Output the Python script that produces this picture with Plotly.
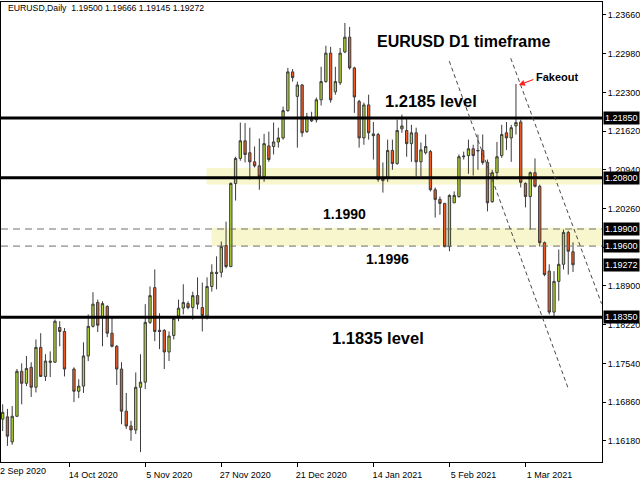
import plotly.graph_objects as go

# ---------------- data ----------------
# bar slot index (slot 14 is empty in the reference chart)
bar_index = [i for i in range(121) if i != 14]

opens = [
    1.1656, 1.1660, 1.1616, 1.1661, 1.1740, 1.1719, 1.1747, 1.1712, 1.1782, 1.1731,
    1.1758, 1.1756, 1.1817, 1.1810,
    1.1744, 1.1705, 1.1714, 1.1767, 1.1819, 1.1861, 1.1835, 1.1854, 1.1807, 1.1784,
    1.1744, 1.1670, 1.1644, 1.1637, 1.1712, 1.1721, 1.1826, 1.1887, 1.1812, 1.1812,
    1.1774, 1.1803, 1.1837, 1.1851, 1.1859, 1.1852, 1.1873, 1.1852, 1.1837, 1.1889,
    1.1914, 1.1914, 1.1961, 1.1924, 1.2070, 1.2114, 1.2145, 1.2124, 1.2108, 1.2101,
    1.2082, 1.2136, 1.2135, 1.2143, 1.2150, 1.2198, 1.2266, 1.2223, 1.2243, 1.2161,
    1.2185, 1.2182, 1.2217, 1.2249, 1.2299, 1.2231, 1.2247, 1.2301, 1.2327, 1.2273,
    1.2214, 1.2150, 1.2208, 1.2157, 1.2156, 1.2075, 1.2080, 1.2128, 1.2105, 1.2166,
    1.2163, 1.2140, 1.2159, 1.2108, 1.2124, 1.2126, 1.2059, 1.2042, 1.2035, 1.1959,
    1.2036, 1.2047, 1.2117, 1.2119, 1.2131, 1.2127, 1.2128, 1.2107, 1.2038, 1.2089,
    1.2119, 1.2159, 1.2150, 1.2171, 1.2178, 1.2070, 1.2047, 1.2089, 1.2065, 1.1966,
    1.1916, 1.1844, 1.1898, 1.1928, 1.1984, 1.19500,
]
highs = [
    1.1682, 1.1674, 1.1679, 1.1744, 1.1754, 1.1767, 1.1756, 1.1796, 1.1807, 1.1770,
    1.1775, 1.1831, 1.1828, 1.1816,
    1.1747, 1.1726, 1.1791, 1.1840, 1.1879, 1.1866, 1.1863, 1.1856, 1.1837, 1.1786,
    1.1756, 1.1702, 1.1653, 1.1738, 1.1770, 1.1858, 1.1889, 1.1919, 1.1842, 1.1814,
    1.1810, 1.1837, 1.1866, 1.1893, 1.1863, 1.1880, 1.1905, 1.1896, 1.1905, 1.1928,
    1.1942, 1.1968, 1.2003, 1.2072, 1.2117, 1.2177, 1.2176, 1.2168, 1.2135, 1.2149,
    1.2157, 1.2161, 1.2177, 1.2168, 1.2205, 1.2273, 1.2271, 1.2249, 1.2245, 1.2194,
    1.2196, 1.2221, 1.2275, 1.2312, 1.2310, 1.2275, 1.2308, 1.2352, 1.2345, 1.2275,
    1.2217, 1.2212, 1.2226, 1.2178, 1.2159, 1.2107, 1.2147, 1.2147, 1.2182, 1.2191,
    1.2185, 1.2173, 1.2168, 1.2142, 1.2156, 1.2129, 1.2063, 1.2047, 1.2036, 1.2051,
    1.2056, 1.2121, 1.2126, 1.2147, 1.2138, 1.2156, 1.2156, 1.2112, 1.2094, 1.2143,
    1.2173, 1.2178, 1.2173, 1.2245, 1.2182, 1.2072, 1.2091, 1.2114, 1.2068, 1.1968,
    1.1928, 1.1916, 1.1954, 1.1989, 1.1987, 1.19666,
]
lows = [
    1.1635, 1.1609, 1.1611, 1.1660, 1.1682, 1.1714, 1.1695, 1.1703, 1.1730, 1.1723,
    1.1730, 1.1755, 1.1784, 1.1731,
    1.1686, 1.1693, 1.1702, 1.1758, 1.1817, 1.1809, 1.1784, 1.1800, 1.1782, 1.1716,
    1.1647, 1.1639, 1.1618, 1.1630, 1.1598, 1.1709, 1.1823, 1.1793, 1.1779, 1.1744,
    1.1758, 1.1796, 1.1828, 1.1840, 1.1849, 1.1831, 1.1849, 1.1810, 1.1831, 1.1880,
    1.1884, 1.1905, 1.1921, 1.1923, 1.2040, 1.2110, 1.2107, 1.2077, 1.2098, 1.2059,
    1.2073, 1.2108, 1.2121, 1.2133, 1.2147, 1.2196, 1.2249, 1.2133, 1.2152, 1.2159,
    1.2178, 1.2177, 1.2207, 1.2247, 1.2212, 1.2226, 1.2243, 1.2299, 1.2270, 1.2194,
    1.2133, 1.2138, 1.2147, 1.2112, 1.2073, 1.2054, 1.2073, 1.2094, 1.2103, 1.2159,
    1.2117, 1.2108, 1.2082, 1.2082, 1.2121, 1.2056, 1.2010, 1.2015, 1.1958, 1.1951,
    1.2036, 1.2045, 1.2112, 1.2087, 1.2084, 1.2094, 1.2103, 1.2021, 1.2036, 1.2077,
    1.2115, 1.2129, 1.2108, 1.2156, 1.2063, 1.2028, 1.1989, 1.2063, 1.1959, 1.1907,
    1.1840, 1.1835, 1.1864, 1.1919, 1.1910, 1.19145,
]
closes = [
    1.1668, 1.1626, 1.1661, 1.1740, 1.1719, 1.1745, 1.1712, 1.1782, 1.1731, 1.1758,
    1.1756, 1.1828, 1.1810, 1.1744,
    1.1705, 1.1714, 1.1767, 1.1819, 1.1858, 1.1821, 1.1859, 1.1807, 1.1784, 1.1744,
    1.1670, 1.1644, 1.1637, 1.1712, 1.1721, 1.1826, 1.1873, 1.1810, 1.1810, 1.1774,
    1.1802, 1.1833, 1.1851, 1.1861, 1.1852, 1.1873, 1.1858, 1.1838, 1.1889, 1.1914,
    1.1912, 1.1959, 1.1924, 1.2070, 1.2114, 1.2145, 1.2121, 1.2108, 1.2101, 1.2082,
    1.2140, 1.2112, 1.2143, 1.2150, 1.2198, 1.2266, 1.2256, 1.2243, 1.2159, 1.2187,
    1.2180, 1.2217, 1.2249, 1.2299, 1.2217, 1.2249, 1.2299, 1.2327, 1.2273, 1.2222,
    1.2150, 1.2208, 1.2159, 1.2154, 1.2077, 1.2079, 1.2128, 1.2105, 1.2163, 1.2171,
    1.2140, 1.2159, 1.2108, 1.2129, 1.2135, 1.2059, 1.2042, 1.2035, 1.1959, 1.2049,
    1.2049, 1.2117, 1.2118, 1.2131, 1.2119, 1.2128, 1.2107, 1.2036, 1.2089, 1.2117,
    1.2156, 1.2150, 1.2168, 1.2177, 1.2072, 1.2047, 1.2089, 1.2065, 1.1966, 1.1910,
    1.1844, 1.1898, 1.1928, 1.1984, 1.1951, 1.19272,
]

x_tick_vals = [14, 30, 46, 62, 78, 94, 110]
x_tick_text = ["14 Oct 2020", "5 Nov 2020", "27 Nov 2020", "21 Dec 2020",
               "14 Jan 2021", "5 Feb 2021", "1 Mar 2021"]
first_date_label = "22 Sep 2020"

y_tick_vals = [1.16180, 1.16860, 1.17540, 1.18220, 1.18900, 1.19580,
               1.20260, 1.20940, 1.21620, 1.22300, 1.22980, 1.23660]
y_tick_text = ["1.16180", "1.16860", "1.17540", "1.18220", "1.18900", "",
               "1.20260", "1.20940", "1.21620", "1.22300", "1.22980", "1.23660"]

solid_levels = [1.2185, 1.2080, 1.1835]
dashed_levels = [1.1990, 1.1960]
zone_starts = [42.9, 43.96]
zone_tops = [1.2097, 1.1992]
zone_bottoms = [1.2068, 1.1960]
price_tags = ["1.21850", "1.20800", "1.19900", "1.19600", "1.19272", "1.18350"]

trend_x0 = [93.96, 106.9]
trend_y0 = [1.2285, 1.2290]
trend_x1 = [118.9, 126.0]
trend_y1 = [1.1712, 1.1859]

header_text = "EURUSD,Daily  1.19500 1.19666 1.19145 1.19272"

# ---------------- figure ----------------
X_RANGE = [-0.354, 126.1]
Y_RANGE = [1.15807, 1.23888]

fig = go.Figure()
fig.add_trace(go.Candlestick(
    x=bar_index, open=opens, high=highs, low=lows, close=closes,
    increasing=dict(fillcolor="#B2D82E", line=dict(color="#3c3c3c", width=1)),
    decreasing=dict(fillcolor="#EC5A22", line=dict(color="#3c3c3c", width=1)),
    whiskerwidth=0, hoverinfo="skip", showlegend=False,
))

shapes = []
for xs, top, bot in zip(zone_starts, zone_tops, zone_bottoms):
    shapes.append(dict(type="rect", xref="x", yref="y", x0=xs, x1=X_RANGE[1] + 5,
                       y0=bot, y1=top, fillcolor="#F8F6CC", line=dict(width=0),
                       layer="below"))
for lv in dashed_levels:
    shapes.append(dict(type="line", xref="paper", yref="y", x0=0, x1=1, y0=lv, y1=lv,
                       line=dict(color="#6e6e6e", width=1, dash="7px,5px")))
for lv in solid_levels:
    shapes.append(dict(type="line", xref="paper", yref="y", x0=0, x1=1, y0=lv, y1=lv,
                       line=dict(color="#000000", width=3)))
for a, b, c, d in zip(trend_x0, trend_y0, trend_x1, trend_y1):
    shapes.append(dict(type="line", xref="x", yref="y", x0=a, y0=b, x1=c, y1=d,
                       line=dict(color="#4a4a4a", width=1, dash="4px,3px")))

BOLD = "Arial, 'Liberation Sans', sans-serif"
REG = "'Liberation Sans', Arial, sans-serif"
annotations = [
    dict(text="<b>EURUSD D1 timeframe</b>", x=96.9, y=1.2320, xref="x", yref="y",
         showarrow=False, font=dict(family=BOLD, size=16, color="black")),
    dict(text="<b>1.2185 level</b>", x=90.1, y=1.2215, xref="x", yref="y",
         showarrow=False, font=dict(family=BOLD, size=16.5, color="black")),
    dict(text="<b>Fakeout</b>", x=116.7, y=1.2257, xref="x", yref="y",
         showarrow=False, font=dict(family=BOLD, size=11, color="black")),
    dict(text="", x=108.6, y=1.2243, xref="x", yref="y", showarrow=True,
         arrowhead=2, arrowsize=1, arrowwidth=1.2, arrowcolor="#ff2020",
         ax=16, ay=-6),
    dict(text="<b>1.1990</b>", x=71.9, y=1.2017, xref="x", yref="y",
         showarrow=False, font=dict(family=BOLD, size=14, color="black")),
    dict(text="<b>1.1996</b>", x=80.9, y=1.1938, xref="x", yref="y",
         showarrow=False, font=dict(family=BOLD, size=14, color="black")),
    dict(text="<b>1.1835 level</b>", x=79.0, y=1.1798, xref="x", yref="y",
         showarrow=False, font=dict(family=BOLD, size=16.5, color="black")),
    dict(text=header_text, x=5 / 607, y=(463 - 8.5) / 461, xref="paper", yref="paper",
         xanchor="left", yanchor="middle", showarrow=False,
         font=dict(family=REG, size=8.7, color="black")),
    dict(text=first_date_label, x=-8 / 607, y=-9 / 461, xref="paper", yref="paper",
         xanchor="left", yanchor="middle", showarrow=False,
         font=dict(family=REG, size=9, color="black")),
]
for t in price_tags:
    annotations.append(dict(text=t, x=1, y=float(t), xref="paper", yref="y",
                            xanchor="left", yanchor="middle", xshift=1,
                            showarrow=False, bgcolor="#000000", borderpad=1,
                            font=dict(family=REG, size=9, color="white")))

fig.update_layout(
    width=640, height=480,
    margin=dict(l=0, r=33, t=2, b=17),
    paper_bgcolor="white", plot_bgcolor="white",
    shapes=shapes, annotations=annotations,
    showlegend=False,
    xaxis=dict(range=X_RANGE, showgrid=False, zeroline=False, showline=True,
               mirror=True, linecolor="black", linewidth=1,
               ticks="outside", ticklen=4, tickcolor="black",
               tickvals=x_tick_vals, ticktext=x_tick_text, ticklabelshift=24,
               ticklabelstandoff=0,
               tickfont=dict(family=REG, size=9, color="black"),
               rangeslider=dict(visible=False), fixedrange=True),
    yaxis=dict(range=Y_RANGE, side="right", showgrid=False, zeroline=False,
               showline=True, mirror=True, linecolor="black", linewidth=1,
               ticks="outside", ticklen=3, tickcolor="black",
               tickvals=y_tick_vals, ticktext=y_tick_text,
               tickfont=dict(family=REG, size=9, color="black"),
               fixedrange=True),
)

fig.write_html("out.html", config={"displayModeBar": False},
               post_script="document.body.style.margin='0px';")
